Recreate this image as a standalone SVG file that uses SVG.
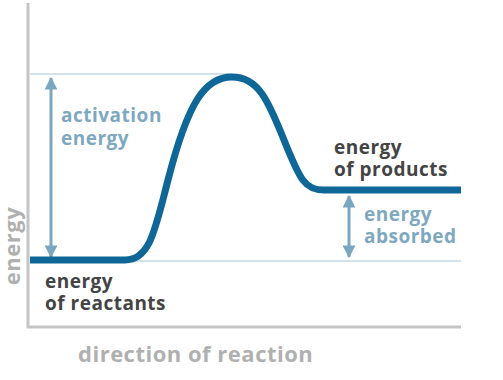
<svg xmlns="http://www.w3.org/2000/svg" width="503" height="380" viewBox="0 0 503 380">
<style>
.axis{stroke:#c4c4c4;stroke-width:3;fill:none}
.guide{stroke:#d3e2ea;stroke-width:2;fill:none}
.curve{stroke:#0f6797;stroke-width:7;fill:none;stroke-linecap:butt;stroke-linejoin:round}
.arrow{stroke:#7aa7bf;stroke-width:3;fill:none}
.lbl{font-family:"Open Sans","Liberation Sans",sans-serif;font-weight:700;font-size:19px;letter-spacing:0.5px}
.dark{fill:#444444}
.blue{fill:#7ea8bf}
.axt{font-family:"Open Sans","Liberation Sans",sans-serif;font-weight:700;font-size:22px;letter-spacing:0.5px;fill:#b0b0b0}
</style>
<defs>
<marker id="ah" viewBox="0 0 10 10" refX="9" refY="5" markerWidth="4.3" markerHeight="4.3" orient="auto-start-reverse" markerUnits="strokeWidth">
<path d="M0,0 L10,5 L0,10 Z" fill="#7aa7bf"/>
</marker>
</defs>
<rect width="503" height="380" fill="#ffffff"/>
<g id="axes">
<path class="axis" d="M28,3 V327 H461"/>
</g>
<g id="guides">
<line class="guide" x1="30" y1="74" x2="232" y2="74"/>
<line class="guide" x1="30" y1="261" x2="461" y2="261"/>
</g>
<g id="connectors">
<line class="arrow" x1="51" y1="78" x2="51" y2="257" marker-start="url(#ah)" marker-end="url(#ah)"/>
<line class="arrow" x1="349" y1="196" x2="349" y2="257" marker-start="url(#ah)" marker-end="url(#ah)"/>
</g>
<g id="curve">
<path class="curve" d="M30,260 L125,260 C150,260 155,230 168,180 C188,102 205,77 232,77 C258,77 268,100 284,140 C300,180 305,190 324,190 L461,190"/>
</g>
<g id="label-activation">
<text class="lbl blue" x="61" y="122"><tspan x="61" y="122">activation</tspan><tspan x="61" y="145">energy</tspan></text>
</g>
<g id="label-products">
<text class="lbl dark"><tspan x="334" y="154">energy</tspan><tspan x="334" y="176">of products</tspan></text>
</g>
<g id="label-absorbed">
<text class="lbl blue"><tspan x="364" y="221">energy</tspan><tspan x="364" y="243">absorbed</tspan></text>
</g>
<g id="label-reactants">
<text class="lbl dark"><tspan x="45" y="288">energy</tspan><tspan x="45" y="310">of reactants</tspan></text>
</g>
<g id="axis-labels">
<text class="axt" x="78" y="362">direction of reaction</text>
<text class="axt" transform="translate(20,246) rotate(-90)" text-anchor="middle">energy</text>
</g>
</svg>
